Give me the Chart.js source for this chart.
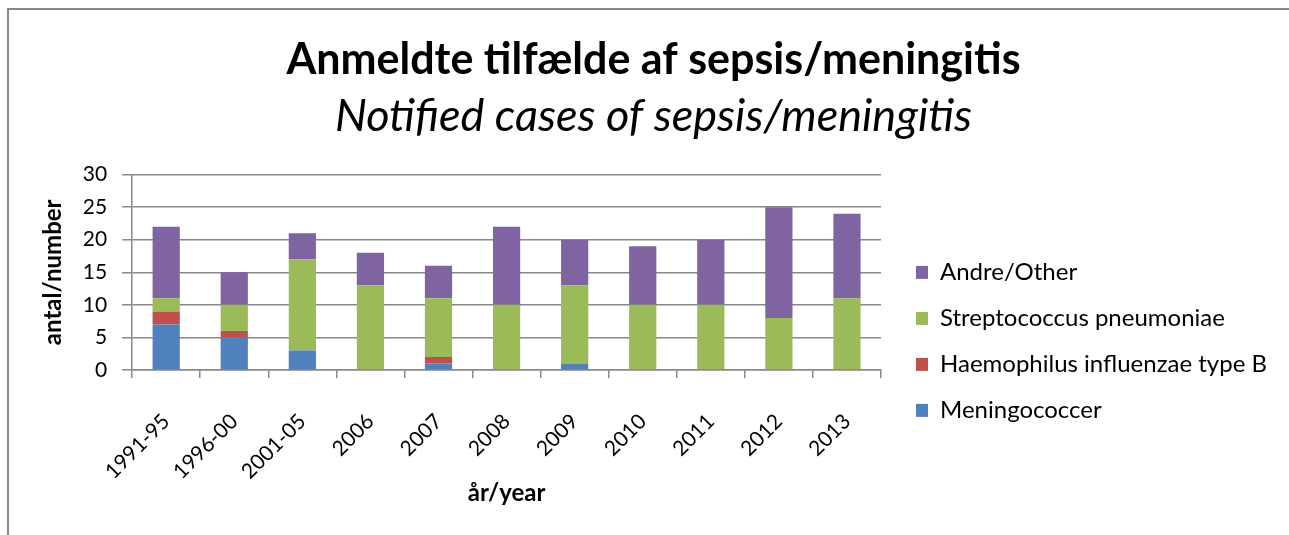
<!DOCTYPE html>
<html>
<head>
<meta charset="utf-8">
<script src="https://cdn.jsdelivr.net/npm/chart.js@4"></script>
<style>
  html, body { margin: 0; padding: 0; background: #fff; overflow: hidden; width: 1289px; height: 535px; }
  #frame {
    position: absolute; left: 7px; top: 8px; width: 1290px; height: 530px;
    border-top: 2px solid #888; border-left: 2px solid #888;
  }
  #wrap { position: absolute; left: 0; top: 0; width: 1289px; height: 535px; }
</style>
</head>
<body>
<div id="frame"></div>
<div id="wrap"><canvas id="chart"></canvas></div>
<script>
// kategorier og tal
const years = ["1991-95", "1996-00", "2001-05", "2006", "2007", "2008", "2009", "2010", "2011", "2012", "2013"];
const meningococcer = [7, 5, 3, 0, 1, 0, 1, 0, 0, 0, 0];
const haemophilus   = [2, 1, 0, 0, 1, 0, 0, 0, 0, 0, 0];
const streptococcus = [2, 4, 14, 13, 9, 10, 12, 10, 10, 8, 11];
const andre         = [11, 5, 4, 5, 5, 12, 7, 9, 10, 17, 13];
const yTicks = [0, 5, 10, 15, 20, 25, 30];

const font = "Lato, 'Open Sans', sans-serif";
const grey = "#888";

const ctx = document.getElementById("chart");
new Chart(ctx, {
  type: "bar",
  data: {
    labels: years,
    datasets: [
      { label: "Meningococcer", data: meningococcer, backgroundColor: "#4F81BD" },
      { label: "Haemophilus influenzae type B", data: haemophilus, backgroundColor: "#C0504D" },
      { label: "Streptococcus pneumoniae", data: streptococcus, backgroundColor: "#9BBB59" },
      { label: "Andre/Other", data: andre, backgroundColor: "#8064A2" }
    ]
  },
  options: {
    responsive: true,
    maintainAspectRatio: false,
    animation: false,
    layout: { padding: { top: 0, left: 30, right: 12, bottom: 27 } },
    datasets: { bar: { categoryPercentage: 1, barPercentage: 0.4 } },
    plugins: {
      title: {
        display: true,
        text: "Anmeldte tilfælde af sepsis/meningitis",
        color: "#000",
        font: { family: font, size: 43, weight: "bold" },
        padding: { top: 34, bottom: 4 }
      },
      subtitle: {
        display: true,
        text: "Notified cases of sepsis/meningitis",
        color: "#000",
        font: { family: font, size: 45, style: "italic" },
        padding: { top: 0, bottom: 31 }
      },
      legend: {
        position: "right",
        align: "start",
        reverse: true,
        maxWidth: 420,
        // tom titel skubber punkterne ned
        title: { display: true, text: "", font: { size: 12 }, padding: { top: 224, bottom: 0 } },
        labels: {
          color: "#000",
          font: { family: font, size: 24 },
          boxWidth: 12, boxHeight: 13,
          padding: 22
        }
      },
      tooltip: { enabled: false }
    },
    scales: {
      x: {
        stacked: true,
        grid: { display: true, drawOnChartArea: false, color: grey, lineWidth: 1.5, tickLength: 8, offset: true },
        border: { color: grey, width: 1.5 },
        ticks: { color: "#000", font: { family: font, size: 21 }, maxRotation: 45, minRotation: 45, padding: 31 },
        title: { display: true, text: "år/year", color: "#000", font: { family: font, size: 24, weight: "bold" }, padding: { top: 0, bottom: 0 } },
        afterFit: s => { s.height = 138; }
      },
      y: {
        stacked: true,
        min: 0, max: 30,
        afterBuildTicks: axis => { axis.ticks = yTicks.map(v => ({ value: v })); },
        grid: { color: grey, lineWidth: 1.5, tickLength: 10 },
        border: { color: grey, width: 1.5 },
        ticks: { color: "#000", font: { family: font, size: 21 }, padding: 15 },
        title: { display: true, text: "antal/number", color: "#000", font: { family: font, size: 24, weight: "bold" }, padding: { top: 9, bottom: 0 } }
      },
      // tom akse til højre giver luft mellem plot og forklaring
      gap: {
        position: "right",
        grid: { display: false },
        border: { display: false },
        ticks: { display: false },
        afterFit: s => { s.width = 13; }
      }
    }
  }
});
</script>
</body>
</html>
